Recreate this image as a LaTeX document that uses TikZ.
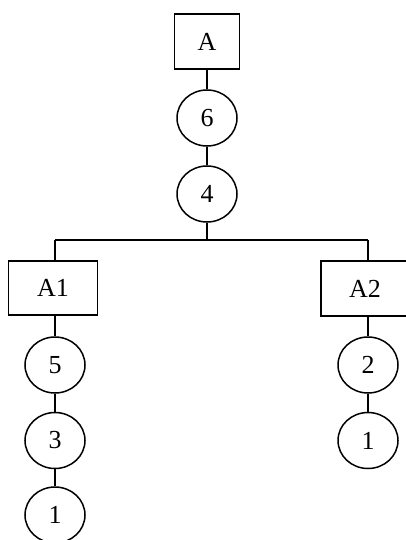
\documentclass[tikz,border=0pt]{standalone}
\usepackage{fontspec}
\setmainfont{Liberation Serif}
\usetikzlibrary{shapes.geometric}
\begin{document}
\begin{tikzpicture}[x=1pt,y=-1pt,
  every node/.style={font=\fontsize{26}{31}\selectfont, inner sep=0pt, line width=1.5pt},
  boxnode/.style={draw, rectangle, minimum width=#1, minimum height=55},
  boxnode/.default=88,
  circnode/.style={draw, ellipse, minimum width=60, minimum height=56},
  link/.style={line width=1.5pt}]
\useasboundingbox (0,0) rectangle (406,540);
\clip (0,0) rectangle (406,540);
\node[boxnode=65] (A) at (207,41.5) {A};
\node[circnode] (six) at (207,118) {6};
\node[circnode] (four) at (207,194) {4};
\coordinate (busL) at (55,240);
\coordinate (busR) at (368,240);
\coordinate (busM) at (207,240);
\node[boxnode=89, minimum height=54] (A1) at (53,288) {A1};
\node[boxnode=88] (A2) at (365,288.5) {A2};
\node[circnode] (five) at (55,365) {5};
\node[circnode] (three) at (55,440.5) {3};
\node[circnode] (oneL) at (55,515) {1};
\node[circnode] (two) at (368,365) {2};
\node[circnode] (oneR) at (368,440.5) {1};
\draw[link] (A) -- (six);
\draw[link] (six) -- (four);
\draw[link] (four) -- (busM);
\draw[link] (busL) -- (busR);
\draw[link] (busL) -- (busL |- A1.north);
\draw[link] (busR) -- (busR |- A2.north);
\draw[link] (five |- A1.south) -- (five);
\draw[link] (five) -- (three);
\draw[link] (three) -- (oneL);
\draw[link] (two |- A2.south) -- (two);
\draw[link] (two) -- (oneR);
\end{tikzpicture}
\end{document}
